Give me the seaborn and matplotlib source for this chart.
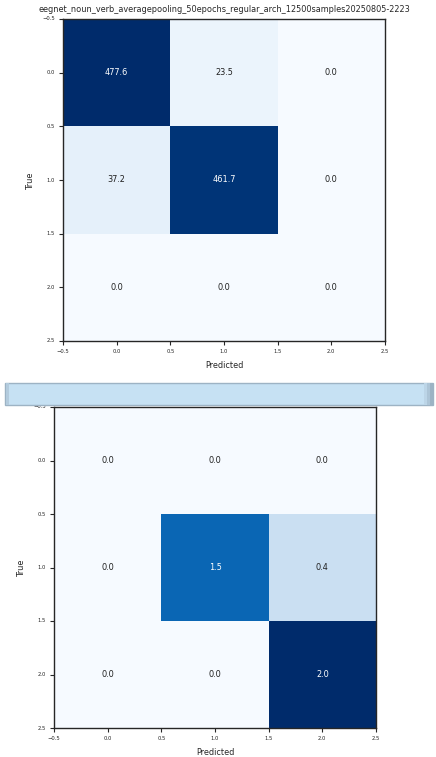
import numpy as np
import pandas as pd
import matplotlib
matplotlib.use("Agg")
import matplotlib.pyplot as plt
from matplotlib.patches import Rectangle
from matplotlib.colors import ListedColormap, rgb_to_hsv, hsv_to_rgb
import seaborn as sns

title_top = "eegnet_noun_verb_averagepooling_50epochs_regular_arch_12500samples20250805-2223"
top_row0 = [477.6, 23.5, 0.0]
top_row1 = [37.2, 461.7, 0.0]
top_row2 = [0.0, 0.0, 0.0]
bot_row0 = [0.0, 0.0, 0.0]
bot_row1 = [0.0, 1.5, 0.4]
bot_row2 = [0.0, 0.0, 2.0]
tick_labels = ["−0.5", "0.0", "0.5", "1.0", "1.5", "2.0", "2.5"]
xlabel = "Predicted"
ylabel = "True"

sns.set_style("white")
plt.rcParams['font.family'] = ['DejaVu Sans']

# slightly more saturated Blues, matching the reference rendering
base = sns.color_palette("Blues", as_cmap=True)(np.linspace(0, 1, 256))[:, :3]
hsv = rgb_to_hsv(base)
hsv[:, 1] = np.clip(hsv[:, 1] * 1.15, 0, 1)
cmap = ListedColormap(hsv_to_rgb(hsv))

W, H = 436, 757
fig = plt.figure(figsize=(W / 100, H / 100), dpi=100)


def draw(ax, data, title=None):
    arr = np.array(data)
    sns.heatmap(arr, ax=ax, cmap=cmap, vmin=0, vmax=arr.max(), cbar=False,
                annot=False, linewidths=0, square=False)
    thresh = arr.max() / 2.0
    for i in range(arr.shape[0]):
        for j in range(arr.shape[1]):
            v = arr[i, j]
            ax.text(j + 0.5, i + 0.5, f"{v:.1f}", ha="center", va="center",
                    fontsize=5.9, color="white" if v > thresh else "#1f1f1f")
    ticks = np.arange(0, 3.01, 0.5)
    ax.set_xticks(ticks)
    ax.set_yticks(ticks)
    ax.set_xticklabels(tick_labels, fontsize=3.8, rotation=0)
    ax.set_yticklabels(tick_labels, fontsize=3.8, rotation=0)
    ax.set_xlim(0, 3)
    ax.set_ylim(3, 0)
    ax.tick_params(axis="both", length=3, width=0.8, pad=3, color="#262626",
                   labelcolor="#262626", bottom=True, left=True)
    for s in ax.spines.values():
        s.set_visible(True)
        s.set_color("#262626")
        s.set_linewidth(1.0)
    ax.set_xlabel(xlabel, fontsize=5.9, color="#262626", labelpad=5)
    ax.set_ylabel(ylabel, fontsize=5.9, color="#262626", labelpad=5)
    if title:
        ax.set_title(title, fontsize=5.9, color="#262626", pad=5)


ax1 = fig.add_axes([63 / W, 1 - 341 / H, 322 / W, 322 / H])
draw(ax1, [top_row0, top_row1, top_row2], title_top)

ax2 = fig.add_axes([54 / W, 1 - 728 / H, 322 / W, 321 / H])
draw(ax2, [bot_row0, bot_row1, bot_row2])

# light blue bar overlay between the two panels
bx0, by0, bw, bh = 5 / W, 1 - 405 / H, 428 / W, 22 / H
fig.patches.append(Rectangle((bx0, by0), bw, bh, transform=fig.transFigure,
                             facecolor="#c6e1f3", edgecolor="#9db3c4",
                             linewidth=1.0, zorder=10))
fig.patches.append(Rectangle((bx0 + 0.5 / W, by0), 3 / W, bh, transform=fig.transFigure,
                             facecolor="#b3cbdd", edgecolor="none", zorder=11))
for k, c in enumerate(["#bcd5e7", "#adc5d7", "#9cb3c4"]):
    fig.patches.append(Rectangle((bx0 + bw - (9 - 3 * k) / W, by0), 3 / W, bh,
                                 transform=fig.transFigure, facecolor=c,
                                 edgecolor="none", zorder=11))

fig.savefig("out.png", dpi=100)
